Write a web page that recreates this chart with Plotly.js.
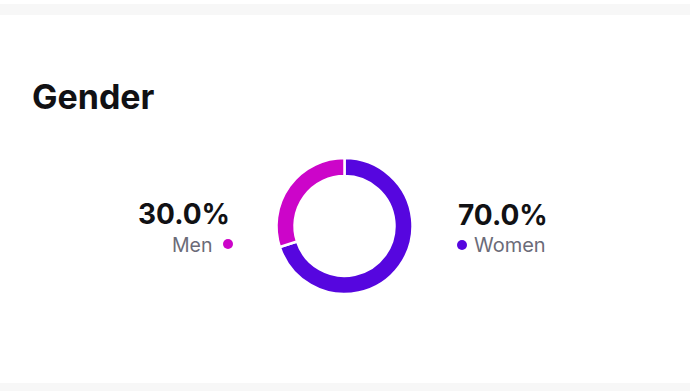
<!DOCTYPE html>
<html>
<head>
<meta charset="utf-8">
<script src="https://cdn.plot.ly/plotly-3.0.1.min.js"></script>
<style>html,body{margin:0;padding:0;background:#fff;}#chart{width:690px;height:391px;}</style>
</head>
<body>
<div id="chart"></div>
<script>
// Data
var categories = ["Women", "Men"];
var shares = [70.0, 30.0];
var sliceColors = ["#5606DF", "#CC05C9"];
var chartTitle = "Gender";

var W = 690, H = 391;
function px(x){ return x / W; }
function py(y){ return 1 - y / H; }

var cx = 344.5, cy = 226, R = 68;

var trace = {
  type: "pie",
  labels: categories,
  values: shares,
  hole: 0.735,
  sort: false,
  direction: "clockwise",
  rotation: 0,
  textinfo: "none",
  hoverinfo: "label+percent",
  marker: { colors: sliceColors, line: { color: "#ffffff", width: 2.5 } },
  domain: { x: [px(cx - R), px(cx + R)], y: [py(cy + R), py(cy - R)] },
  showlegend: false
};

var font = "Inter, Liberation Sans, Arial, sans-serif";
var fmt = function(v){ return v.toFixed(1) + "%"; };
var menIdx = categories.indexOf("Men"), womenIdx = categories.indexOf("Women");

var annotations = [
  { text: "<b>" + chartTitle + "</b>", x: px(30), y: py(96), xanchor: "left", yanchor: "middle",
    font: { family: font, size: 34, color: "#111114" } },
  { text: "<b>" + fmt(shares[menIdx]) + "</b>", x: px(232), y: py(214), xanchor: "right", yanchor: "middle",
    font: { family: font, size: 28, color: "#111114" } },
  { text: categories[menIdx], x: px(215), y: py(245), xanchor: "right", yanchor: "middle",
    font: { family: font, size: 19.5, color: "#6B6B78" } },
  { text: "<b>" + fmt(shares[womenIdx]) + "</b>", x: px(456), y: py(215), xanchor: "left", yanchor: "middle",
    font: { family: font, size: 28, color: "#111114" } },
  { text: categories[womenIdx], x: px(472), y: py(245), xanchor: "left", yanchor: "middle",
    font: { family: font, size: 20, color: "#6B6B78" } }
];
annotations.forEach(function(a){ a.xref = "paper"; a.yref = "paper"; a.showarrow = false; });

function dot(x, y, r, c){
  return { type: "circle", xref: "paper", yref: "paper", x0: px(x - r), x1: px(x + r), y0: py(y + r), y1: py(y - r),
    fillcolor: c, line: { width: 0 } };
}

var shapes = [
  { type: "rect", xref: "paper", yref: "paper", x0: 0, x1: 1, y0: py(15), y1: py(4), fillcolor: "#F7F7F7", line: { width: 0 }, layer: "below" },
  { type: "rect", xref: "paper", yref: "paper", x0: 0, x1: 1, y0: 0, y1: py(383), fillcolor: "#F7F7F7", line: { width: 0 }, layer: "below" },
  dot(228, 244, 5, sliceColors[menIdx]),
  dot(462, 245, 5, sliceColors[womenIdx])
];

var layout = {
  width: W, height: H,
  margin: { l: 0, r: 0, t: 0, b: 0 },
  paper_bgcolor: "#ffffff",
  plot_bgcolor: "#ffffff",
  annotations: annotations,
  shapes: shapes,
  showlegend: false
};

Plotly.newPlot("chart", [trace], layout, { displayModeBar: false, staticPlot: true });
</script>
</body>
</html>
